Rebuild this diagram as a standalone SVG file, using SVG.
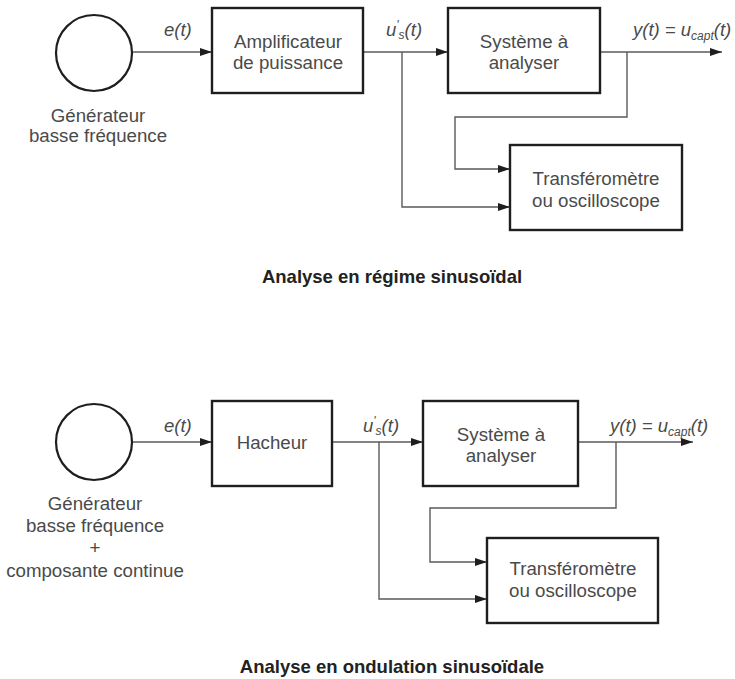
<svg xmlns="http://www.w3.org/2000/svg" width="735" height="679" viewBox="0 0 735 679">
  <style>
    .box { fill: #ffffff; stroke: #1e1e1e; stroke-width: 2.4; }
    .gen { fill: #ffffff; stroke: #1e1e1e; stroke-width: 2.2; }
    .wire { fill: none; stroke: #5a5a5a; stroke-width: 1.4; }
    .arrow { marker-end: url(#head); }
    text { font-family: "Liberation Sans", Arial, sans-serif; fill: #4a4a4a; }
    .lbl { font-size: 18.7px; text-anchor: middle; }
    .sig { font-size: 18.5px; font-style: italic; }
    .sub { font-size: 12px; }
    .cap { font-size: 18.5px; font-weight: bold; fill: #222222; text-anchor: middle; }
  </style>
  <defs>
    <marker id="head" markerWidth="12" markerHeight="8" refX="12" refY="4" orient="auto" markerUnits="userSpaceOnUse">
      <path d="M0,0 L12,4 L0,8 Z" fill="#1e1e1e"/>
    </marker>
  </defs>

  <rect width="735" height="679" fill="#ffffff"/>

  <!-- Connectors: sinusoidal analysis -->
  <g id="connectors-top">
    <path class="wire arrow" d="M132,52 H212"/>
    <path class="wire arrow" d="M363,52 H448"/>
    <path class="wire arrow" d="M600,52 H722"/>
    <path class="wire arrow" d="M627,52 V117 H455 V169 H510"/>
    <path class="wire arrow" d="M402,52 V207 H510"/>
    <text class="sig" x="164" y="36">e(t)</text>
    <text class="sig" x="386" y="36">u<tspan class="sub" dy="-7">'</tspan><tspan class="sub" dy="10">s</tspan><tspan dy="-3">(t)</tspan></text>
    <text class="sig" x="633" y="36">y(t) = u<tspan class="sub" dy="4">capt</tspan><tspan dy="-4">(t)</tspan></text>
  </g>

  <!-- Nodes: sinusoidal analysis -->
  <g id="gen-top">
    <circle class="gen" cx="94" cy="53" r="38"/>
    <text class="lbl" x="98" y="122">Générateur</text>
    <text class="lbl" x="98" y="142">basse fréquence</text>
  </g>
  <g id="amp-top">
    <rect class="box" x="212" y="8" width="151" height="85"/>
    <text class="lbl" x="288" y="48">Amplificateur</text>
    <text class="lbl" x="288" y="69">de puissance</text>
  </g>
  <g id="sys-top">
    <rect class="box" x="448" y="8" width="152" height="85"/>
    <text class="lbl" x="524" y="48">Système à</text>
    <text class="lbl" x="524" y="69">analyser</text>
  </g>
  <g id="meter-top">
    <rect class="box" x="510" y="145" width="172" height="85"/>
    <text class="lbl" x="596" y="185">Transféromètre</text>
    <text class="lbl" x="596" y="207">ou oscilloscope</text>
  </g>
  <text class="cap" x="392" y="283">Analyse en régime sinusoïdal</text>

  <!-- Connectors: sinusoidal ripple analysis -->
  <g id="connectors-bottom">
    <path class="wire arrow" d="M132,442 H212"/>
    <path class="wire arrow" d="M332,442 H423"/>
    <path class="wire arrow" d="M578,442 H693"/>
    <path class="wire arrow" d="M616,442 V508 H430 V562 H487"/>
    <path class="wire arrow" d="M379,442 V599 H487"/>
    <text class="sig" x="164" y="432">e(t)</text>
    <text class="sig" x="363" y="432">u<tspan class="sub" dy="-7">'</tspan><tspan class="sub" dy="10">s</tspan><tspan dy="-3">(t)</tspan></text>
    <text class="sig" x="610" y="432">y(t) = u<tspan class="sub" dy="4">capt</tspan><tspan dy="-4">(t)</tspan></text>
  </g>

  <!-- Nodes: sinusoidal ripple analysis -->
  <g id="gen-bottom">
    <circle class="gen" cx="94" cy="442" r="38"/>
    <text class="lbl" x="95" y="510">Générateur</text>
    <text class="lbl" x="95" y="532">basse fréquence</text>
    <text class="lbl" x="95" y="554">+</text>
    <text class="lbl" x="95" y="577">composante continue</text>
  </g>
  <g id="chopper-bottom">
    <rect class="box" x="212" y="401" width="120" height="85"/>
    <text class="lbl" x="272" y="449">Hacheur</text>
  </g>
  <g id="sys-bottom">
    <rect class="box" x="423" y="401" width="155" height="85"/>
    <text class="lbl" x="501" y="441">Système à</text>
    <text class="lbl" x="501" y="462">analyser</text>
  </g>
  <g id="meter-bottom">
    <rect class="box" x="487" y="538" width="171" height="85"/>
    <text class="lbl" x="573" y="575">Transféromètre</text>
    <text class="lbl" x="573" y="597">ou oscilloscope</text>
  </g>
  <text class="cap" x="392" y="673">Analyse en ondulation sinusoïdale</text>
</svg>
